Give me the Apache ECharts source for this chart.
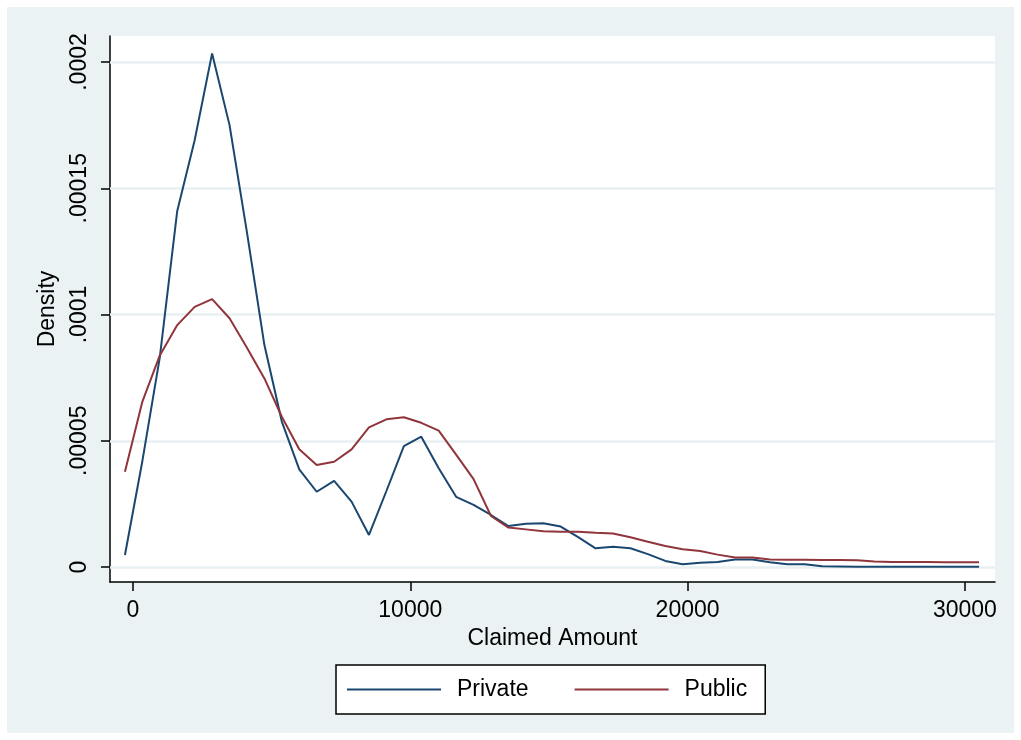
<!DOCTYPE html>
<html>
<head>
<meta charset="utf-8">
<script src="https://cdn.jsdelivr.net/npm/echarts@6/dist/echarts.min.js"></script>
<style>
  html, body { margin: 0; padding: 0; background: #ffffff; }
  #chart { width: 1021px; height: 740px; }
</style>
</head>
<body>
<div id="chart"></div>
<script>
// Kernel density estimates of claimed amounts, evaluated on a common grid of 50 points.
const claimedAmount = [
  -290, 339, 967, 1596, 2224, 2853, 3482, 4110, 4739, 5367,
  5996, 6625, 7253, 7882, 8510, 9139, 9768, 10396, 11025, 11653,
  12282, 12911, 13539, 14168, 14796, 15425, 16054, 16682, 17311, 17939,
  18568, 19197, 19825, 20454, 21082, 21711, 22340, 22968, 23597, 24225,
  24854, 25483, 26111, 26740, 27368, 27997, 28626, 29254, 29883, 30511
];

const privateDensity = [
  0.475e-5, 4.2e-5, 8.3e-5, 14.1e-5, 16.9e-5, 20.34e-5, 17.5e-5, 13.25e-5, 8.79e-5, 5.76e-5,
  3.87e-5, 2.98e-5, 3.41e-5, 2.59e-5, 1.27e-5, 3.01e-5, 4.79e-5, 5.16e-5, 3.91e-5, 2.78e-5,
  2.46e-5, 2.06e-5, 1.62e-5, 1.71e-5, 1.73e-5, 1.60e-5, 1.18e-5, 0.74e-5, 0.80e-5, 0.74e-5,
  0.51e-5, 0.24e-5, 0.11e-5, 0.17e-5, 0.20e-5, 0.30e-5, 0.30e-5, 0.19e-5, 0.11e-5, 0.11e-5,
  0.03e-5, 0.02e-5, 0.01e-5, 0.01e-5, 0.01e-5, 0.01e-5, 0.01e-5, 0.01e-5, 0.01e-5, 0.01e-5
];

const publicDensity = [
  3.77e-5, 6.55e-5, 8.38e-5, 9.58e-5, 10.30e-5, 10.61e-5, 9.85e-5, 8.68e-5, 7.47e-5, 5.95e-5,
  4.66e-5, 4.04e-5, 4.17e-5, 4.66e-5, 5.53e-5, 5.85e-5, 5.93e-5, 5.71e-5, 5.40e-5, 4.45e-5,
  3.48e-5, 2.02e-5, 1.56e-5, 1.49e-5, 1.42e-5, 1.40e-5, 1.40e-5, 1.36e-5, 1.33e-5, 1.18e-5,
  1.00e-5, 0.83e-5, 0.70e-5, 0.63e-5, 0.49e-5, 0.38e-5, 0.38e-5, 0.30e-5, 0.29e-5, 0.29e-5,
  0.28e-5, 0.28e-5, 0.27e-5, 0.22e-5, 0.20e-5, 0.20e-5, 0.20e-5, 0.19e-5, 0.19e-5, 0.19e-5
];

const seriesNames = ['Private', 'Public'];
const seriesColors = ['#1a476f', '#90353b'];

const xTickValues = [0, 10000, 20000, 30000];
const xTickLabels = ['0', '10000', '20000', '30000'];
const yTickValues = [0, 0.00005, 0.0001, 0.00015, 0.0002];
const yTickLabels = ['0', '.00005', '.0001', '.00015', '.0002'];

const FONT = '"Liberation Sans", Arial, sans-serif';
const INK = '#000000';
const PANEL = '#eaf2f3';
const RULE = '#e8f0f2';
const FS = 23;

function labelFor(values, labels) {
  return function (v) {
    const i = values.findIndex(t => Math.abs(t - v) < 1e-9);
    return i >= 0 ? labels[i] : '';
  };
}

function pairs(ys) {
  return claimedAmount.map((x, i) => [x, ys[i]]);
}

const chart = echarts.init(document.getElementById('chart'), null, { renderer: 'canvas' });

chart.setOption({
  animation: false,
  backgroundColor: '#ffffff',
  color: seriesColors,
  graphic: [{
    type: 'rect',
    z: -10,
    silent: true,
    shape: { x: 7, y: 7, width: 1007, height: 726 },
    style: { fill: PANEL }
  }],
  grid: {
    left: 110, right: 26, top: 36, bottom: 158,
    show: true, backgroundColor: '#ffffff', borderWidth: 0
  },
  legend: {
    data: seriesNames,
    left: 336, top: 665,
    orient: 'horizontal',
    icon: 'rect',
    itemWidth: 94, itemHeight: 2,
    itemGap: 46,
    padding: [13, 18, 13, 11],
    backgroundColor: '#ffffff',
    borderColor: INK, borderWidth: 1.5, borderRadius: 0,
    textStyle: { fontFamily: FONT, fontSize: FS, color: INK, padding: [0, 0, 0, 11] }
  },
  xAxis: {
    type: 'value',
    min: -829, max: 31086,
    name: 'Claimed Amount',
    nameLocation: 'middle',
    nameGap: 42,
    nameTextStyle: { fontFamily: FONT, fontSize: FS, color: INK },
    axisLine: { onZero: false, lineStyle: { color: INK, width: 1.5 } },
    axisTick: { customValues: xTickValues, length: 9, lineStyle: { color: INK, width: 1.5 } },
    axisLabel: {
      customValues: xTickValues,
      formatter: labelFor(xTickValues, xTickLabels),
      margin: 17, fontFamily: FONT, fontSize: FS, color: INK
    },
    splitLine: { show: false }
  },
  yAxis: {
    type: 'value',
    min: -0.00000594, max: 0.0002103,
    name: 'Density',
    nameLocation: 'middle',
    nameGap: 51,
    nameTextStyle: { fontFamily: FONT, fontSize: FS, color: INK },
    axisLine: { onZero: false, lineStyle: { color: INK, width: 1.5 } },
    axisTick: { customValues: yTickValues, length: 9, lineStyle: { color: INK, width: 1.5 } },
    axisLabel: {
      customValues: yTickValues,
      formatter: labelFor(yTickValues, yTickLabels),
      rotate: 90,
      margin: 19, fontFamily: FONT, fontSize: FS, color: INK
    },
    splitLine: { show: false }
  },
  series: [
    {
      name: seriesNames[0],
      type: 'line',
      z: 3,
      showSymbol: false,
      symbol: 'none',
      color: seriesColors[0],
      itemStyle: { color: seriesColors[0] },
      lineStyle: { width: 2, color: seriesColors[0] },
      data: pairs(privateDensity),
      // horizontal rules at each density tick, drawn beneath the curves
      markLine: {
        z: 1,
        silent: true,
        precision: 10,
        symbol: ['none', 'none'],
        label: { show: false },
        emphasis: { disabled: true },
        lineStyle: { color: RULE, width: 2.5, type: 'solid', opacity: 1 },
        data: yTickValues.map(v => ({ yAxis: v }))
      }
    },
    {
      name: seriesNames[1],
      type: 'line',
      z: 3,
      showSymbol: false,
      symbol: 'none',
      color: seriesColors[1],
      itemStyle: { color: seriesColors[1] },
      lineStyle: { width: 2, color: seriesColors[1] },
      data: pairs(publicDensity)
    }
  ]
});
</script>
</body>
</html>
